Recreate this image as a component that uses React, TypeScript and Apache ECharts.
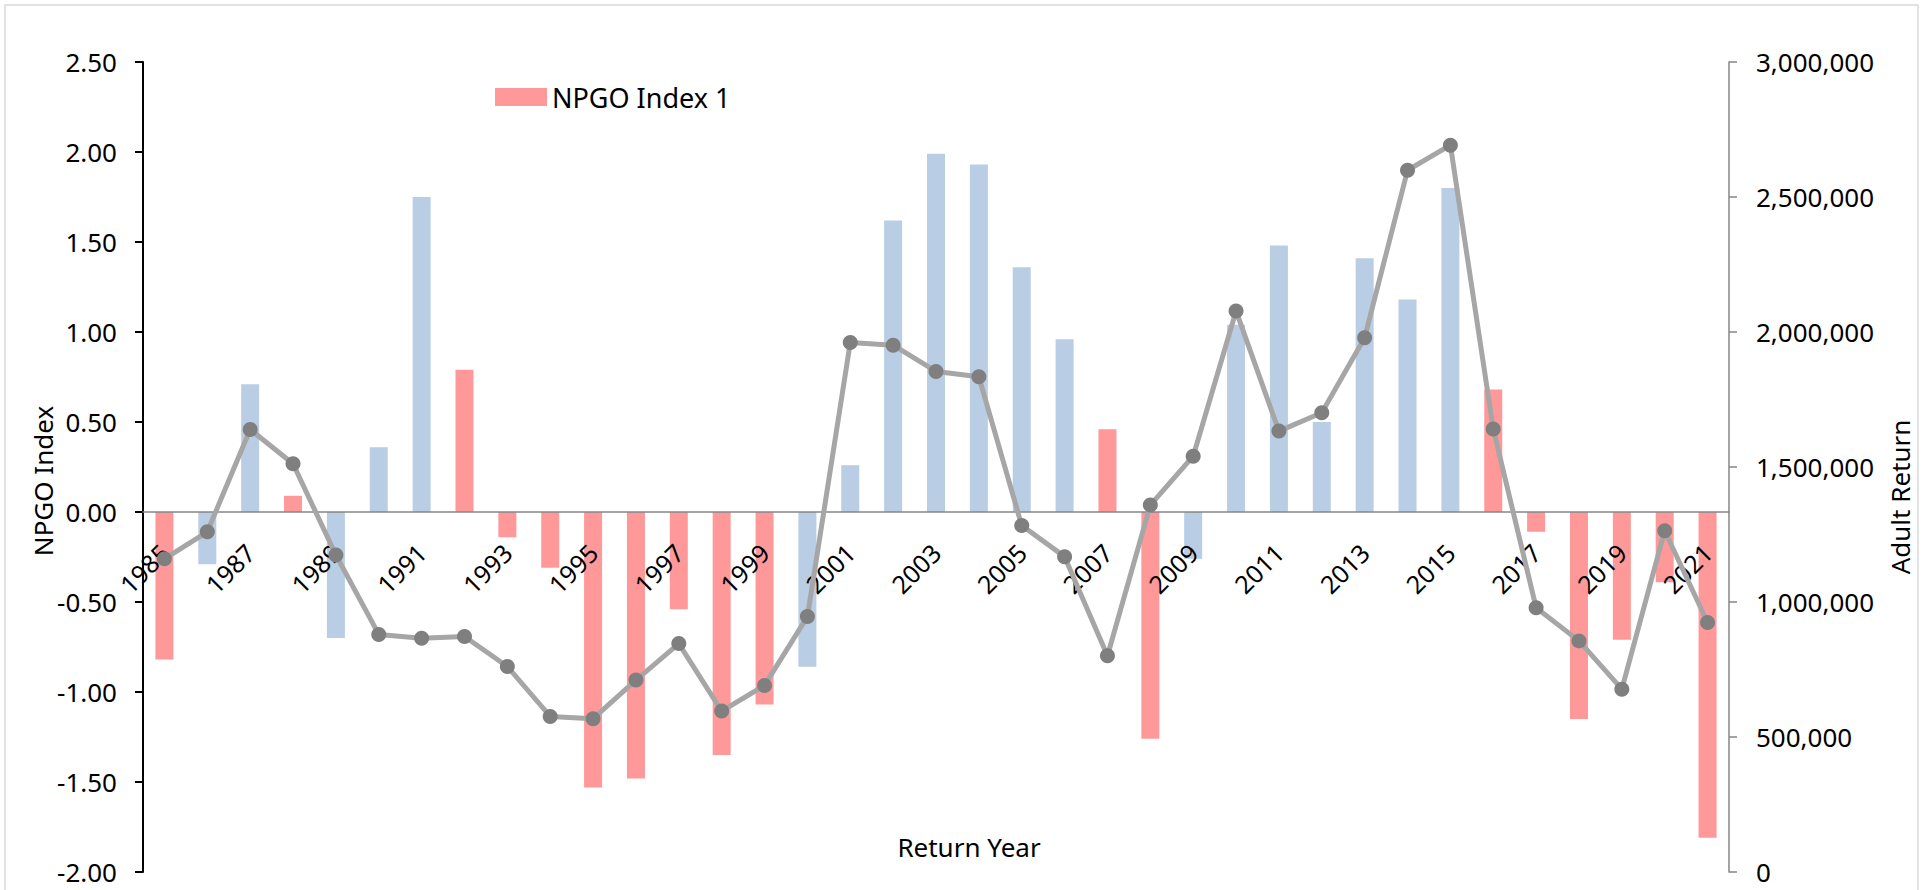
import React, { useEffect, useRef } from "react";
import * as echarts from "echarts";

const years = [
  "1985", "1986", "1987", "1988", "1989", "1990", "1991", "1992", "1993", "1994",
  "1995", "1996", "1997", "1998", "1999", "2000", "2001", "2002", "2003", "2004",
  "2005", "2006", "2007", "2008", "2009", "2010", "2011", "2012", "2013", "2014",
  "2015", "2016", "2017", "2018", "2019", "2020", "2021",
];

// NPGO Index 1 (red bars)
const npgoIndex1 = [
  -0.82, null, null, 0.09, null, null, null, 0.79, -0.14, -0.31,
  -1.53, -1.48, -0.54, -1.35, -1.07, null, null, null, null, null,
  null, null, 0.46, -1.26, null, null, null, null, null, null,
  null, 0.68, -0.11, -1.15, -0.71, -0.39, -1.81,
];

// NPGO Index (blue bars)
const npgoIndex2 = [
  null, -0.29, 0.71, null, -0.7, 0.36, 1.75, null, null, null,
  null, null, null, null, null, -0.86, 0.26, 1.62, 1.99, 1.93,
  1.36, 0.96, null, null, -0.26, 1.04, 1.48, 0.5, 1.41, 1.18,
  1.8, null, null, null, null, null, null,
];

// Adult Return (line)
const adultReturn = [
  1160000, 1260000, 1639000, 1512000, 1174000, 880000, 866000, 872000, 761000, 576000,
  568000, 711000, 846000, 596000, 691000, 946000, 1961000, 1951000, 1854000, 1834000,
  1283000, 1168000, 801000, 1359000, 1540000, 2078000, 1633000, 1701000, 1979000, 2599000,
  2692000, 1641000, 979000, 856000, 677000, 1264000, 924000,
];

const FONT = "Noto Sans";

const GRID_TOP = 62;
const GRID_BOTTOM = 18;
const CHART_H = 890;
const LEFT_MIN = -2;
const LEFT_MAX = 2.5;

export default function App() {
  const ref = useRef<HTMLDivElement>(null);

  useEffect(() => {
    const chart = echarts.init(ref.current!, null, { renderer: "svg" });
    const plotH = CHART_H - GRID_TOP - GRID_BOTTOM;
    // shift category axis up so it sits on the zero line of the left axis
    const zeroOffset = -((0 - LEFT_MIN) / (LEFT_MAX - LEFT_MIN)) * plotH;
    chart.setOption({
      animation: false,
      backgroundColor: "#ffffff",
      textStyle: { fontFamily: FONT, color: "#000000" },
      grid: {
        left: 143,
        right: 200,
        top: GRID_TOP,
        bottom: GRID_BOTTOM,
        containLabel: false,
        outerBoundsMode: "none",
      },
      legend: {
        data: ["NPGO Index 1"],
        left: 495,
        top: 82,
        padding: 0,
        itemWidth: 52,
        itemHeight: 18,
        icon: "rect",
        textStyle: { fontFamily: FONT, fontSize: 27, color: "#000000", lineHeight: 30 },
      },
      xAxis: {
        type: "category",
        data: years,
        position: "bottom",
        offset: zeroOffset,
        z: 3,
        axisLine: { onZero: false, lineStyle: { color: "#868686", width: 1.5 } },
        axisTick: { show: false },
        axisLabel: {
          interval: 1,
          rotate: 45,
          margin: 36,
          fontSize: 25,
          fontFamily: FONT,
          color: "#000000",
        },
        splitLine: { show: false },
      },
      yAxis: [
        {
          type: "value",
          min: LEFT_MIN,
          max: LEFT_MAX,
          interval: 0.5,
          position: "left",
          axisLine: { show: true, lineStyle: { color: "#000000", width: 2 } },
          axisTick: { show: true, length: 8, lineStyle: { color: "#000000", width: 2 } },
          axisLabel: {
            margin: 26,
            fontSize: 26,
            fontFamily: FONT,
            color: "#000000",
            formatter: (v: number) => v.toFixed(2),
          },
          splitLine: { show: false },
        },
        {
          type: "value",
          min: 0,
          max: 3000000,
          interval: 500000,
          position: "right",
          axisLine: { show: true, lineStyle: { color: "#868686", width: 1.5 } },
          axisTick: { show: true, length: 8, lineStyle: { color: "#868686", width: 1.5 } },
          axisLabel: {
            margin: 27,
            fontSize: 26,
            fontFamily: FONT,
            color: "#000000",
            formatter: (v: number) => v.toLocaleString("en-US"),
          },
          splitLine: { show: false },
        },
      ],
      graphic: [
        {
          type: "rect",
          shape: { x: 5, y: 5, width: 1913, height: 900 },
          style: { fill: "none", stroke: "#d9d9d9", lineWidth: 1.5 },
          silent: true,
        },
        {
          type: "text",
          x: 969,
          y: 847,
          style: {
            text: "Return Year",
            font: `26px "${FONT}"`,
            fill: "#000000",
            align: "center",
            verticalAlign: "middle",
          },
        },
        {
          type: "text",
          x: 43,
          y: 481,
          rotation: Math.PI / 2,
          style: {
            text: "NPGO Index",
            font: `26px "${FONT}"`,
            fill: "#000000",
            align: "center",
            verticalAlign: "middle",
          },
        },
        {
          type: "text",
          x: 1900,
          y: 497,
          rotation: Math.PI / 2,
          style: {
            text: "Adult Return",
            font: `26px "${FONT}"`,
            fill: "#000000",
            align: "center",
            verticalAlign: "middle",
          },
        },
      ],
      series: [
        {
          name: "NPGO Index 1",
          type: "bar",
          data: npgoIndex1,
          barWidth: 18,
          barGap: "-100%",
          yAxisIndex: 0,
          z: 2,
          itemStyle: { color: "#FF9999" },
        },
        {
          name: "NPGO Index 2",
          type: "bar",
          data: npgoIndex2,
          barWidth: 18,
          barGap: "-100%",
          yAxisIndex: 0,
          z: 2,
          itemStyle: { color: "#B9CDE5" },
        },
        {
          name: "Adult Return",
          type: "line",
          data: adultReturn,
          yAxisIndex: 1,
          symbol: "circle",
          symbolSize: 15,
          showSymbol: true,
          lineStyle: { color: "#A6A6A6", width: 5 },
          itemStyle: { color: "#7F7F7F" },
          z: 5,
        },
      ],
    });
    return () => chart.dispose();
  }, []);

  return (
    <div
      ref={ref}
      style={{ position: "absolute", left: 0, top: 0, width: 1929, height: 890 }}
    />
  );
}
